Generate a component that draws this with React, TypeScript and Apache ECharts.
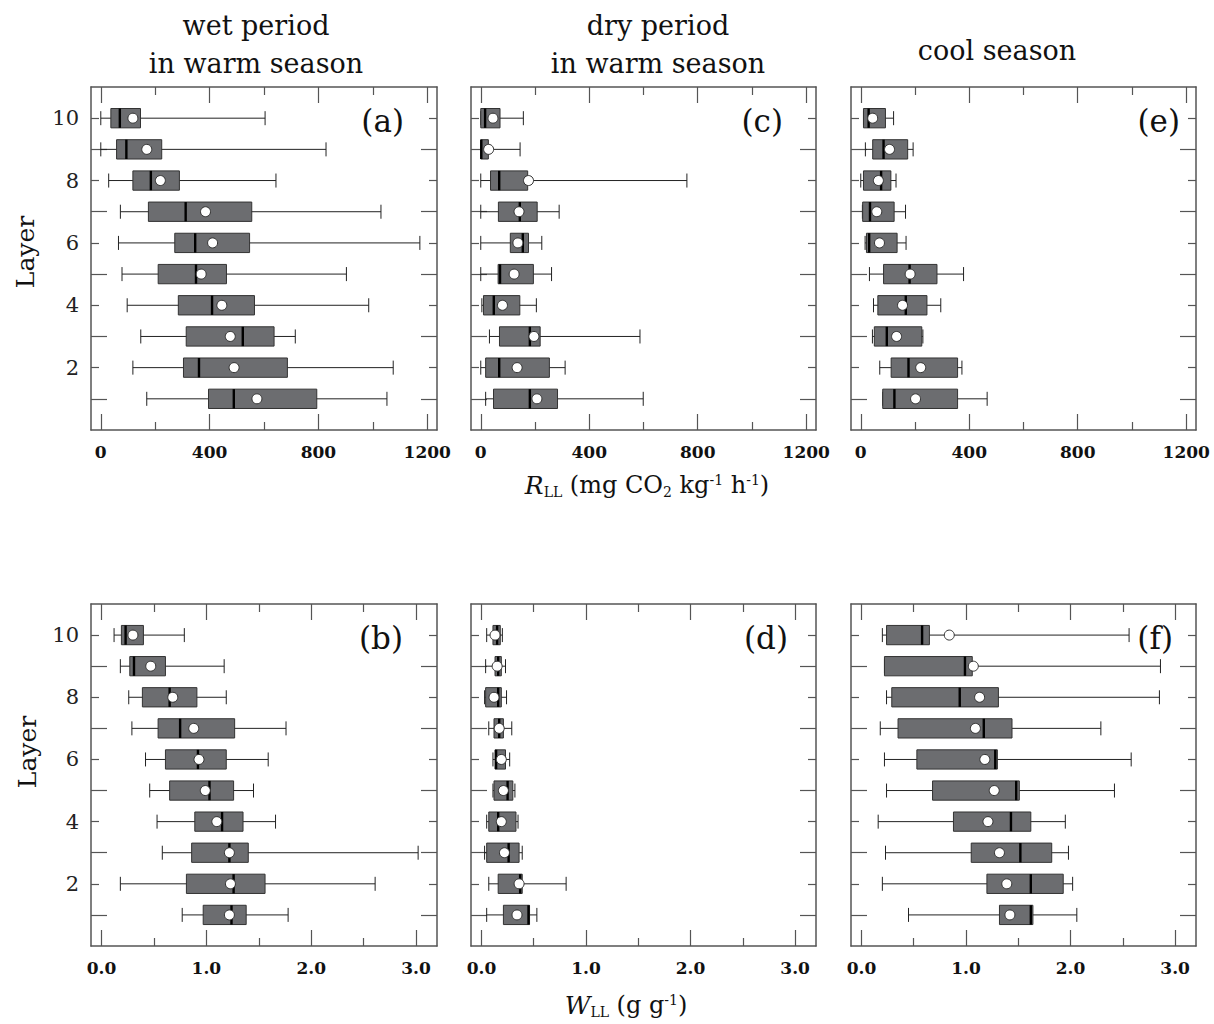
import React, { useEffect, useRef } from "react";
import * as echarts from "echarts";

const layers = [1, 2, 3, 4, 5, 6, 7, 8, 9, 10];

// rows: layer 1..10, [min, q1, median, q3, max, mean]
const rllWet = [
  [169, 396, 489, 794, 1052, 574],
  [118, 304, 361, 686, 1075, 490],
  [147, 314, 522, 637, 715, 476],
  [97, 285, 409, 565, 985, 445],
  [78, 211, 350, 462, 903, 369],
  [65, 272, 347, 547, 1173, 411],
  [72, 175, 312, 555, 1030, 385],
  [29, 118, 184, 289, 644, 219],
  [0, 58, 94, 224, 828, 169],
  [0, 37, 70, 146, 604, 118],
];
const rllDry = [
  [18, 47, 181, 283, 599, 207],
  [0, 18, 68, 253, 311, 134],
  [32, 69, 181, 219, 587, 196],
  [4, 10, 48, 144, 205, 80],
  [0, 64, 71, 194, 261, 123],
  [0, 109, 155, 176, 225, 137],
  [0, 65, 144, 208, 289, 141],
  [0, 36, 68, 173, 760, 176],
  [0, 0, 2, 28, 145, 29],
  [0, 0, 16, 71, 157, 45],
];
const rllCool = [
  [81, 81, 124, 357, 466, 202],
  [70, 112, 176, 357, 373, 221],
  [43, 50, 96, 225, 229, 132],
  [47, 63, 166, 244, 295, 154],
  [32, 84, 180, 281, 379, 182],
  [16, 21, 31, 134, 167, 69],
  [6, 7, 34, 123, 165, 59],
  [0, 10, 75, 111, 130, 65],
  [17, 44, 84, 173, 193, 106],
  [10, 10, 29, 91, 121, 44],
];
const wllWet = [
  [0.77, 0.97, 1.24, 1.38, 1.78, 1.22],
  [0.18, 0.81, 1.26, 1.56, 2.61, 1.23],
  [0.58, 0.86, 1.22, 1.4, 3.02, 1.22],
  [0.53, 0.89, 1.15, 1.35, 1.66, 1.1],
  [0.46, 0.65, 1.03, 1.26, 1.45, 0.99],
  [0.42, 0.61, 0.92, 1.19, 1.59, 0.93],
  [0.29, 0.54, 0.75, 1.27, 1.76, 0.88],
  [0.26, 0.39, 0.65, 0.91, 1.19, 0.68],
  [0.18, 0.27, 0.31, 0.61, 1.17, 0.47],
  [0.12, 0.19, 0.23, 0.4, 0.79, 0.3],
];
const wllDry = [
  [0.05, 0.21, 0.45, 0.46, 0.53, 0.34],
  [0.07, 0.16, 0.37, 0.39, 0.81, 0.36],
  [0.03, 0.05, 0.26, 0.36, 0.39, 0.22],
  [0.05, 0.07, 0.16, 0.33, 0.35, 0.19],
  [0.11, 0.12, 0.25, 0.3, 0.32, 0.21],
  [0.11, 0.13, 0.14, 0.23, 0.27, 0.19],
  [0.07, 0.12, 0.17, 0.21, 0.29, 0.17],
  [0.03, 0.04, 0.16, 0.19, 0.24, 0.12],
  [0.04, 0.13, 0.16, 0.19, 0.23, 0.15],
  [0.05, 0.11, 0.15, 0.18, 0.2, 0.13],
];
const wllCool = [
  [0.45, 1.32, 1.62, 1.64, 2.06, 1.42],
  [0.2, 1.2, 1.62, 1.93, 2.02, 1.39],
  [0.23, 1.05, 1.52, 1.82, 1.98, 1.32],
  [0.16, 0.88, 1.43, 1.62, 1.95, 1.21],
  [0.24, 0.68, 1.48, 1.51, 2.42, 1.27],
  [0.22, 0.53, 1.28, 1.3, 2.58, 1.18],
  [0.18, 0.35, 1.17, 1.44, 2.29, 1.09],
  [0.24, 0.29, 0.94, 1.31, 2.85, 1.13],
  [0.22, 0.22, 0.99, 1.06, 2.86, 1.07],
  [0.2, 0.24, 0.58, 0.65, 2.56, 0.84],
];

const rllLongTicks = [0, 400, 800, 1200];
const rllShortTicks = [200, 600, 1000];
const wllLongTicks = [0, 1, 2, 3];
const wllShortTicks = [0.5, 1.5, 2.5];
const layerLongTicks = [1, 3, 5, 7, 9];
const layerShortTicks = [2, 4, 6, 8, 10];
const layerLabels = [2, 4, 6, 8, 10];

const columnTitles = ["wet period\nin warm season", "dry period\nin warm season", "cool season"];
const panelLetters = ["(a)", "(b)", "(c)", "(d)", "(e)", "(f)"];

const SERIF = "DejaVu Serif";
const FRAME = "#555";
const LONG = 16;
const SHORT = 8;

function App() {
  const ref = useRef<HTMLDivElement>(null);
  useEffect(() => {
    const chart = echarts.init(ref.current!, null, { renderer: "svg" });

    const panels = [
      { data: rllWet, left: 91, top: 87, w: 346, h: 343, kind: "r", yl: true, letter: 0, lx: 404 },
      { data: wllWet, left: 91, top: 604, w: 346, h: 342, kind: "w", yl: true, letter: 1, lx: 403 },
      { data: rllDry, left: 471, top: 87, w: 345, h: 343, kind: "r", yl: false, letter: 2, lx: 783 },
      { data: wllDry, left: 471, top: 604, w: 345, h: 342, kind: "w", yl: false, letter: 3, lx: 788 },
      { data: rllCool, left: 851, top: 87, w: 345, h: 343, kind: "r", yl: false, letter: 4, lx: 1180 },
      { data: wllCool, left: 851, top: 604, w: 345, h: 342, kind: "w", yl: false, letter: 5, lx: 1173 },
    ];

    const grid: any[] = [];
    const xAxis: any[] = [];
    const yAxis: any[] = [];
    const series: any[] = [];

    const lineOn = { show: true, onZero: false, lineStyle: { color: FRAME, width: 1.5 } };
    const lineOff = { show: false, onZero: false };
    const tick = (len: number, vals: number[]) => ({
      show: true,
      inside: true,
      length: len,
      customValues: vals,
      lineStyle: { color: FRAME, width: 1.2 },
    });

    panels.forEach((p, g) => {
      grid.push({ left: p.left, top: p.top, width: p.w, height: p.h, containLabel: false });
      const isR = p.kind === "r";
      const xmin = isR ? -36 : -0.1;
      const xmax = isR ? 1236 : 3.2;
      const longT = isR ? rllLongTicks : wllLongTicks;
      const shortT = isR ? rllShortTicks : wllShortTicks;
      const baseX = {
        type: "value",
        gridIndex: g,
        min: xmin,
        max: xmax,
        splitLine: { show: false },
      };
      xAxis.push({
        ...baseX,
        position: "bottom",
        axisLine: lineOn,
        axisTick: tick(LONG, longT),
        axisLabel: {
          show: true,
          customValues: longT,
          margin: 13,
          fontFamily: SERIF,
          fontWeight: "bold",
          fontSize: 17,
          color: "#111",
          formatter: (v: number) => (isR ? String(Math.round(v)) : v.toFixed(1)),
        },
      });
      xAxis.push({ ...baseX, position: "bottom", axisLine: lineOff, axisTick: tick(SHORT, shortT), axisLabel: { show: false } });
      xAxis.push({ ...baseX, position: "top", axisLine: lineOn, axisTick: tick(LONG, longT), axisLabel: { show: false } });
      xAxis.push({ ...baseX, position: "top", axisLine: lineOff, axisTick: tick(SHORT, shortT), axisLabel: { show: false } });

      const baseY = { type: "value", gridIndex: g, min: 0, max: 11, splitLine: { show: false } };
      yAxis.push({
        ...baseY,
        position: "left",
        axisLine: lineOn,
        axisTick: tick(LONG, layerLongTicks),
        axisLabel: {
          show: p.yl,
          customValues: layerLabels,
          margin: 12,
          fontFamily: SERIF,
          fontSize: 21,
          color: "#222",
        },
      });
      yAxis.push({ ...baseY, position: "left", axisLine: lineOff, axisTick: tick(SHORT, layerShortTicks), axisLabel: { show: false } });
      yAxis.push({ ...baseY, position: "right", axisLine: lineOn, axisTick: tick(LONG, layerLongTicks), axisLabel: { show: false } });
      yAxis.push({ ...baseY, position: "right", axisLine: lineOff, axisTick: tick(SHORT, layerShortTicks), axisLabel: { show: false } });

      const rows = p.data.map((r, i) => [layers[i], ...r]);
      series.push({
        type: "custom",
        xAxisIndex: g * 4,
        yAxisIndex: g * 4,
        data: rows,
        encode: { x: [1, 2, 3, 4, 5, 6], y: 0 },
        clip: false,
        renderItem: (params: any, api: any) => {
          const layer = api.value(0);
          const pMin = api.coord([api.value(1), layer]);
          const pQ1 = api.coord([api.value(2), layer]);
          const pMed = api.coord([api.value(3), layer]);
          const pQ3 = api.coord([api.value(4), layer]);
          const pMax = api.coord([api.value(5), layer]);
          const pMean = api.coord([api.value(6), layer]);
          const unit = api.size([0, 1])[1];
          const bh = unit * 0.62;
          const ch = unit * 0.45;
          const y = pMin[1];
          const stroke = "#222";
          return {
            type: "group",
            children: [
              { type: "line", shape: { x1: pMin[0], y1: y, x2: pMax[0], y2: y }, style: { stroke, lineWidth: 1 } },
              { type: "line", shape: { x1: pMin[0], y1: y - ch / 2, x2: pMin[0], y2: y + ch / 2 }, style: { stroke, lineWidth: 1 } },
              { type: "line", shape: { x1: pMax[0], y1: y - ch / 2, x2: pMax[0], y2: y + ch / 2 }, style: { stroke, lineWidth: 1 } },
              {
                type: "rect",
                shape: { x: pQ1[0], y: y - bh / 2, width: Math.max(pQ3[0] - pQ1[0], 1), height: bh },
                style: { fill: "#6c6d70", stroke: "#333", lineWidth: 1 },
              },
              { type: "line", shape: { x1: pMed[0], y1: y - bh / 2, x2: pMed[0], y2: y + bh / 2 }, style: { stroke: "#000", lineWidth: 2.4 } },
              { type: "circle", shape: { cx: pMean[0], cy: y, r: 5 }, style: { fill: "#fff", stroke: "#333", lineWidth: 1 } },
            ],
          };
        },
      });
    });

    const graphic: any[] = [];
    const titleX = [256, 658, 997];
    const titleStyle = { fontFamily: SERIF, fontSize: 27, fill: "#111", align: "center", verticalAlign: "middle" };
    columnTitles.forEach((t, i) => {
      const lines = t.split("\n");
      if (lines.length === 2) {
        graphic.push({ type: "text", x: titleX[i], y: 25, style: { ...titleStyle, text: lines[0] } });
        graphic.push({ type: "text", x: titleX[i], y: 63, style: { ...titleStyle, text: lines[1] } });
      } else {
        graphic.push({ type: "text", x: titleX[i], y: 50, style: { ...titleStyle, text: lines[0] } });
      }
    });
    panels.forEach((p) => {
      graphic.push({
        type: "text",
        x: p.lx,
        y: p.top + 34,
        style: { text: panelLetters[p.letter], fontFamily: SERIF, fontSize: 31, fill: "#111", align: "right", verticalAlign: "middle" },
      });
    });
    graphic.push({ type: "text", x: 25, y: 252, rotation: Math.PI / 2, style: { text: "Layer", fontFamily: SERIF, fontSize: 25, fill: "#111", align: "center", verticalAlign: "middle" } });
    graphic.push({ type: "text", x: 27, y: 752, rotation: Math.PI / 2, style: { text: "Layer", fontFamily: SERIF, fontSize: 25, fill: "#111", align: "center", verticalAlign: "middle" } });

    const rich = {
      i: { fontFamily: SERIF, fontStyle: "italic", fontSize: 25, lineHeight: 32, verticalAlign: "middle", fill: "#111" },
      n: { fontFamily: SERIF, fontSize: 24, lineHeight: 32, verticalAlign: "middle", fill: "#111" },
      s: { fontFamily: SERIF, fontSize: 14, lineHeight: 14, verticalAlign: "bottom", fill: "#111", padding: [0, 0, 2, 0] },
      p: { fontFamily: SERIF, fontSize: 14, lineHeight: 14, verticalAlign: "top", fill: "#111", padding: [4, 0, 0, 0] },
    };
    graphic.push({
      type: "text",
      x: 647,
      y: 485,
      style: {
        text: "{i|R}{s|LL}{n| (mg CO}{s|2}{n| kg}{p|-1}{n| h}{p|-1}{n|)}",
        rich,
        align: "center",
        verticalAlign: "middle",
      },
    });
    graphic.push({
      type: "text",
      x: 626,
      y: 1005,
      style: {
        text: "{i|W}{s|LL}{n| (g g}{p|-1}{n|)}",
        rich,
        align: "center",
        verticalAlign: "middle",
      },
    });

    chart.setOption({
      animation: false,
      backgroundColor: "#fff",
      grid,
      xAxis,
      yAxis,
      series,
      graphic,
    });
    return () => chart.dispose();
  }, []);
  return <div ref={ref} style={{ position: "fixed", left: 0, top: 0, width: 1214, height: 1024 }} />;
}

export default App;
